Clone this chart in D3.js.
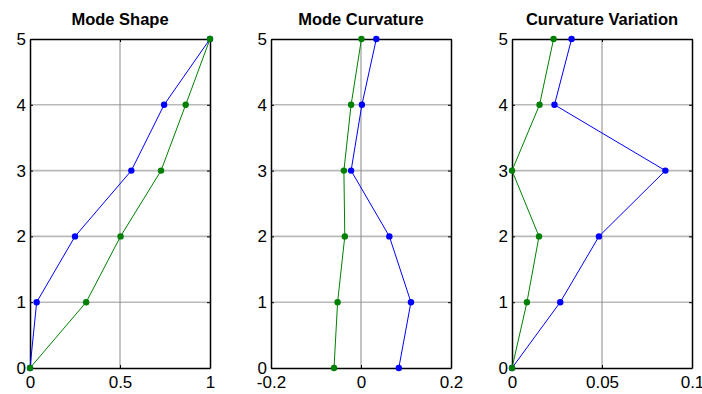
<!DOCTYPE html>
<html>
<head>
<meta charset="utf-8">
<script src="https://cdnjs.cloudflare.com/ajax/libs/d3/7.8.5/d3.min.js"></script>
<style>
  body { margin: 0; background: #fff; }
  svg { display: block; font-family: Arial, "Liberation Sans", sans-serif; }
</style>
</head>
<body>
<svg id="draw-here"></svg>
<script>
// floor levels (y axis)
const levels = [0, 1, 2, 3, 4, 5];

// Mode Shape
const shapeBlue  = [0, 0.037, 0.25, 0.563, 0.745, 1];
const shapeGreen = [0, 0.312, 0.503, 0.728, 0.865, 1];

// Mode Curvature
const curvBlue  = [0.084, 0.111, 0.063, -0.022, 0.002, 0.034];
const curvGreen = [-0.060, -0.052, -0.036, -0.038, -0.022, 0.001];

// Curvature Variation
const varBlue  = [0, 0.0268, 0.0483, 0.0852, 0.0236, 0.0331];
const varGreen = [0, 0.0083, 0.015, 0, 0.0153, 0.0231];

const titles = ["Mode Shape", "Mode Curvature", "Curvature Variation"];
const xDomains = [[0, 1], [-0.2, 0.2], [0, 0.1]];
const xTicks = [[0, 0.5, 1], [-0.2, 0, 0.2], [0, 0.05, 0.1]];
const xTickLabels = [["0", "0.5", "1"], ["-0.2", "0", "0.2"], ["0", "0.05", "0.1"]];
const yTicks = [0, 1, 2, 3, 4, 5];

const panels = [
  { blue: shapeBlue, green: shapeGreen },
  { blue: curvBlue, green: curvGreen },
  { blue: varBlue, green: varGreen }
];

const svg = d3.select('#draw-here')
  .attr('width', 702)
  .attr('height', 394);

const lefts = [30, 271, 512];
const pw = 180, plotTop = 39, plotBottom = 368;

const y = d3.scaleLinear().domain([0, 5]).range([plotBottom, plotTop]);

panels.forEach((p, i) => {
  const x = d3.scaleLinear().domain(xDomains[i]).range([lefts[i], lefts[i] + pw]);
  const g = svg.append('g');

  // grid
  g.append('g')
    .selectAll('line')
    .data(yTicks.slice(1, -1))
    .enter().append('line')
    .attr('x1', lefts[i]).attr('x2', lefts[i] + pw)
    .attr('y1', d => y(d)).attr('y2', d => y(d))
    .attr('stroke', '#b9b9b9')
    .attr('stroke-width', 1.6);

  g.append('g')
    .selectAll('line')
    .data(xTicks[i].slice(1, -1))
    .enter().append('line')
    .attr('x1', d => x(d)).attr('x2', d => x(d))
    .attr('y1', plotTop).attr('y2', plotBottom)
    .attr('stroke', '#8a8a8a')
    .attr('stroke-width', 1);

  // axes (ticks point inward, MATLAB style)
  const fmt = (d, k) => xTickLabels[i][k];
  const xb = g.append('g')
    .attr('transform', `translate(0,${plotBottom})`)
    .call(d3.axisBottom(x).tickValues(xTicks[i]).tickFormat(fmt).tickSizeInner(-3).tickSizeOuter(0).tickPadding(8));
  const xt = g.append('g')
    .attr('transform', `translate(0,${plotTop})`)
    .call(d3.axisTop(x).tickValues(xTicks[i]).tickFormat('').tickSizeInner(-3).tickSizeOuter(0));
  const yl = g.append('g')
    .attr('transform', `translate(${lefts[i]},0)`)
    .call(d3.axisLeft(y).tickValues(yTicks).tickFormat(d3.format('d')).tickSizeInner(-3).tickSizeOuter(0).tickPadding(4));
  const yr = g.append('g')
    .attr('transform', `translate(${lefts[i] + pw},0)`)
    .call(d3.axisRight(y).tickValues(yTicks).tickFormat('').tickSizeInner(-3).tickSizeOuter(0));

  [xb, xt, yl, yr].forEach(a => {
    a.select('.domain').attr('stroke', '#000').attr('stroke-width', 1.5);
    a.selectAll('.tick line').attr('stroke', '#000');
    a.selectAll('text').attr('font-size', 17).attr('fill', '#000')
      .attr('font-family', 'Arial, "Liberation Sans", sans-serif');
  });

  // title
  g.append('text')
    .attr('x', lefts[i] + pw / 2)
    .attr('y', 25)
    .attr('text-anchor', 'middle')
    .attr('font-size', 16.5)
    .attr('font-weight', 'bold')
    .text(titles[i]);

  // series: blue first, green on top
  const line = d3.line().x(d => x(d[0])).y(d => y(d[1]));
  [[p.blue, '#0000ff'], [p.green, '#008000']].forEach(([vals, col]) => {
    const pts = vals.map((v, k) => [v, levels[k]]);
    g.append('path')
      .attr('d', line(pts))
      .attr('fill', 'none')
      .attr('stroke', col)
      .attr('stroke-width', 1);
    g.append('g')
      .selectAll('circle')
      .data(pts)
      .enter().append('circle')
      .attr('cx', d => x(d[0]))
      .attr('cy', d => y(d[1]))
      .attr('r', 3.2)
      .attr('fill', col);
  });
});
</script>
</body>
</html>
